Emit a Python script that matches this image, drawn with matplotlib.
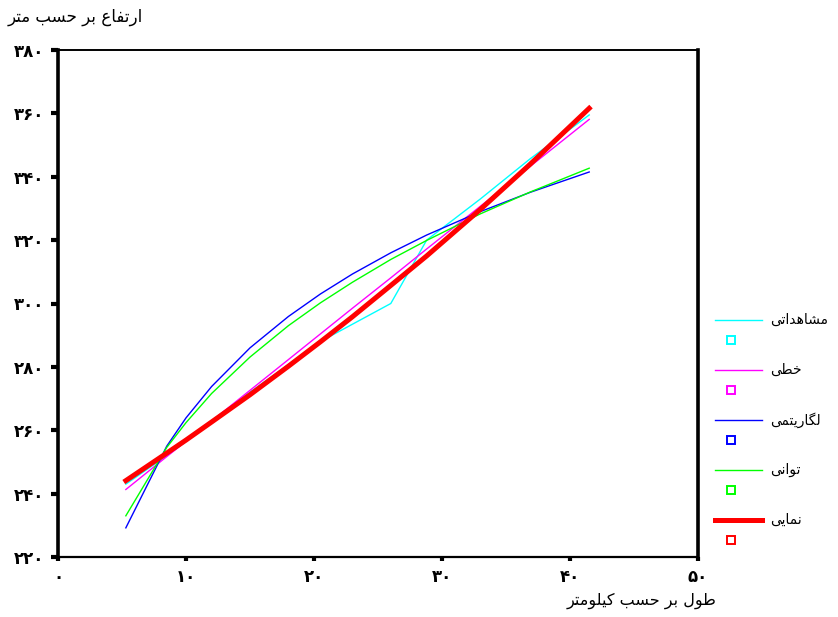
import matplotlib
matplotlib.use("Agg")
import matplotlib.pyplot as plt
from matplotlib.lines import Line2D
from matplotlib.legend_handler import HandlerBase

# --- data ---
obs_km = [5.3, 8.5, 10.0, 12.0, 15.0, 20.5, 26.0, 28.8, 33.0, 36.9, 41.5]
observed = [243.0, 252.0, 256.5, 263.0, 272.0, 288.0, 300.0, 320.0, 333.0, 345.7, 359.5]

fit_km = [5.3, 8.5, 10.0, 12.0, 15.0, 18.0, 20.5, 23.0, 26.0, 28.8, 33.0, 36.9, 41.5]
fit_linear = [241.3, 251.7, 256.5, 262.9, 272.6, 282.3, 290.4, 298.5, 308.1, 317.2, 330.7, 343.3, 358.1]
fit_log = [229.2, 255.0, 263.9, 273.8, 286.0, 295.9, 303.0, 309.3, 316.0, 321.6, 329.0, 335.1, 341.5]
fit_power = [233.0, 254.6, 262.4, 271.6, 283.1, 293.0, 300.2, 306.7, 313.9, 319.9, 328.3, 335.2, 342.7]
fit_exp = [244.1, 252.8, 256.9, 262.6, 271.2, 280.2, 287.9, 295.8, 305.7, 315.0, 329.7, 344.0, 361.6]

x_ticks = [0, 10, 20, 30, 40, 50]
y_ticks = [220, 240, 260, 280, 300, 320, 340, 360, 380]

series_names = ["مشاهداتی", "خطی", "لگاریتمی", "توانی", "نمایی"]
x_title = "طول بر حسب کیلومتر"
y_title = "ارتفاع بر حسب متر"

# matplotlib has no Arabic shaping, so pick the presentation forms by hand
# (isolated, final, initial, medial); two forms means the letter only joins on the right
FORMS = {
    "ا": "\uFE8D\uFE8E", "ب": "\uFE8F\uFE90\uFE91\uFE92", "ت": "\uFE95\uFE96\uFE97\uFE98",
    "ح": "\uFEA1\uFEA2\uFEA3\uFEA4", "خ": "\uFEA5\uFEA6\uFEA7\uFEA8", "د": "\uFEA9\uFEAA",
    "ر": "\uFEAD\uFEAE", "س": "\uFEB1\uFEB2\uFEB3\uFEB4", "ش": "\uFEB5\uFEB6\uFEB7\uFEB8",
    "ط": "\uFEC1\uFEC2\uFEC3\uFEC4", "ع": "\uFEC9\uFECA\uFECB\uFECC", "ف": "\uFED1\uFED2\uFED3\uFED4",
    "ک": "\uFB8E\uFB8F\uFB90\uFB91", "گ": "\uFB92\uFB93\uFB94\uFB95", "ل": "\uFEDD\uFEDE\uFEDF\uFEE0",
    "م": "\uFEE1\uFEE2\uFEE3\uFEE4", "ن": "\uFEE5\uFEE6\uFEE7\uFEE8", "ه": "\uFEE9\uFEEA\uFEEB\uFEEC",
    "و": "\uFEED\uFEEE", "ی": "\uFBFC\uFBFD\uFBFE\uFBFF",
}


def shape(text):
    out = []
    for i, ch in enumerate(text):
        if ch not in FORMS:
            out.append(ch)
            continue
        prev = text[i - 1] if i > 0 else ""
        nxt = text[i + 1] if i + 1 < len(text) else ""
        join_prev = prev in FORMS and len(FORMS[prev]) == 4
        join_next = len(FORMS[ch]) == 4 and nxt in FORMS
        idx = {(False, False): 0, (True, False): 1, (False, True): 2, (True, True): 3}[(join_prev, join_next)]
        out.append(FORMS[ch][idx])
    return "".join(out)[::-1]


def persian_digits(n):
    return str(n).translate(str.maketrans("0123456789", "۰۱۲۳۴۵۶۷۸۹"))


# legend handle: line on top, small hollow square underneath
class LineAndBox(HandlerBase):
    def create_artists(self, legend, orig, xd, yd, width, height, fontsize, trans):
        y_line = -yd + height * 0.72
        line = Line2D([-xd, -xd + width], [y_line, y_line], color=orig.get_color(),
                      lw=orig.get_linewidth(), transform=trans)
        box = Line2D([-xd + width * 0.33], [-yd + height * 0.28], marker="s", ms=5.5,
                     mfc="white", mec=orig.get_color(), mew=1.4, ls="none", transform=trans)
        return [line, box]


plt.rcParams["font.family"] = ["DejaVu Sans"]

fig = plt.figure(figsize=(8.38, 6.17), dpi=100)
ax = fig.add_axes([58 / 838, 1 - 557 / 617, 640 / 838, 507 / 617])

l1, = ax.plot(obs_km, observed, color="#00FFFF", lw=1.0)
l2, = ax.plot(fit_km, fit_linear, color="#FF00FF", lw=1.0)
l3, = ax.plot(fit_km, fit_log, color="#0000FF", lw=1.0)
l4, = ax.plot(fit_km, fit_power, color="#00FF00", lw=1.0)
l5, = ax.plot(fit_km, fit_exp, color="#FF0000", lw=3.6)

ax.set_xlim(0, 50)
ax.set_ylim(220, 380)
ax.set_xticks(x_ticks)
ax.set_xticklabels([persian_digits(v) for v in x_ticks], fontsize=12, fontweight="bold")
ax.set_yticks(y_ticks)
ax.set_yticklabels([persian_digits(v) for v in y_ticks], fontsize=12, fontweight="bold")
ax.tick_params(axis="y", length=5, width=3, pad=5)
ax.tick_params(axis="x", length=3, width=3, pad=5)

ax.spines["left"].set_linewidth(2.6)
ax.spines["right"].set_linewidth(2.6)
ax.spines["bottom"].set_linewidth(1.6)
ax.spines["top"].set_linewidth(1.4)

fig.text(8 / 838, 1 - 17 / 617, shape(y_title), ha="left", va="center", fontsize=12)
fig.text(716 / 838, 1 - 601 / 617, shape(x_title), ha="right", va="center", fontsize=11.5)

ax.legend([l1, l2, l3, l4, l5], [shape(s) + "\n" for s in series_names],
          handler_map={Line2D: LineAndBox()}, loc="upper left",
          bbox_to_anchor=(715 / 838, 1 - 307 / 617), bbox_transform=fig.transFigure,
          frameon=False, borderaxespad=0, borderpad=0, fontsize=10,
          handlelength=3.4, handleheight=4.7, labelspacing=0.3, handletextpad=0.55)

fig.savefig("out.png", dpi=100)
